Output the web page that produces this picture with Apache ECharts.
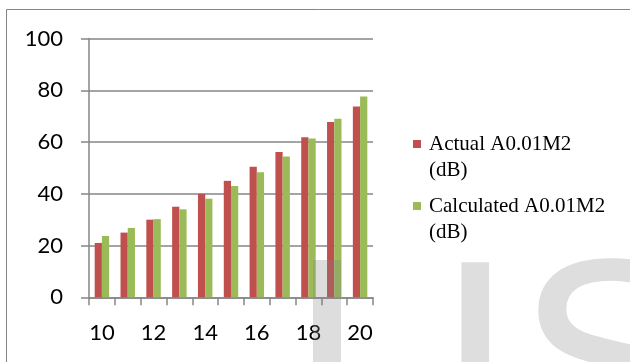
<!DOCTYPE html>
<html>
<head>
<meta charset="utf-8">
<script src="https://cdn.jsdelivr.net/npm/echarts@6/dist/echarts.min.js"></script>
<style>
  html, body { margin: 0; padding: 0; background: #fff; }
  #chart { width: 630px; height: 362px; }
</style>
</head>
<body>
<div id="chart"></div>
<script>
// Sound levels per category, in dB
const categories = ['10', '11', '12', '13', '14', '15', '16', '17', '18', '19', '20'];
const actualValues = [21, 25, 30, 35, 40, 45, 50.4, 56.1, 61.8, 67.7, 73.7];
const calculatedValues = [23.7, 26.8, 30.2, 34, 38.1, 43, 48.3, 54.4, 61.4, 69, 77.6];
const seriesNames = ['Actual A0.01M2 (dB)', 'Calculated A0.01M2 (dB)'];
const yTicks = { min: 0, max: 100, interval: 20 };

const axisGray = '#868686';
const legendLine = 26;
const chart = echarts.init(document.getElementById('chart'), null, { renderer: 'canvas' });

// One legend per series so each entry can sit at its own height.
// The leading blank line keeps the swatch level with the first text line.
function legendFor(name, firstLineCenter) {
  return {
    data: [name],
    left: 413,
    top: firstLineCenter - legendLine * 1.5,
    orient: 'vertical',
    icon: 'rect',
    itemWidth: 8,
    itemHeight: 8,
    padding: 0,
    selectedMode: false,
    formatter: n => '\n' + n.replace(' (dB)', '\n(dB)'),
    textStyle: {
      fontFamily: 'Liberation Serif',
      fontSize: 21,
      lineHeight: legendLine,
      color: '#000',
      padding: [0, 0, 0, 3]
    }
  };
}

chart.setOption({
  animation: false,
  backgroundColor: '#fff',
  grid: { left: 89, right: 257, top: 38.5, bottom: 64.7 },
  legend: [legendFor(seriesNames[0], 144), legendFor(seriesNames[1], 206)],
  xAxis: {
    type: 'category',
    data: categories,
    boundaryGap: true,
    axisLine: { lineStyle: { color: axisGray, width: 1.5 } },
    axisTick: { show: true, interval: 0, length: 8, lineStyle: { color: axisGray, width: 1.5 } },
    axisLabel: { interval: 1, margin: 25, fontFamily: 'Lato', fontSize: 22, color: '#000' }
  },
  yAxis: {
    type: 'value',
    min: yTicks.min,
    max: yTicks.max,
    interval: yTicks.interval,
    axisLine: { show: true, lineStyle: { color: axisGray, width: 1.5 } },
    axisTick: { show: true, length: 8, lineStyle: { color: axisGray, width: 1.5 } },
    axisLabel: { margin: 26, fontFamily: 'Lato', fontSize: 22, color: '#000' },
    splitLine: { lineStyle: { color: axisGray, width: 1.5 } }
  },
  series: [
    {
      name: seriesNames[0],
      type: 'bar',
      data: actualValues,
      itemStyle: { color: '#C0504D' },
      barGap: '0%',
      barCategoryGap: '44%'
    },
    {
      name: seriesNames[1],
      type: 'bar',
      data: calculatedValues,
      itemStyle: { color: '#9BBB59' },
      barGap: '0%',
      barCategoryGap: '44%'
    }
  ],
  graphic: [
    // chart frame
    {
      type: 'rect', silent: true, z: 0,
      shape: { x: 6.5, y: 9.5, width: 640, height: 370 },
      style: { fill: 'none', stroke: axisGray, lineWidth: 1 }
    },
    // faint watermark lettering
    {
      type: 'rect', silent: true, z: 100,
      shape: { x: 313, y: 260, width: 28, height: 110 },
      style: { fill: 'rgba(128,128,128,0.27)' }
    },
    {
      type: 'text', silent: true, z: -1,
      left: 437, top: 239,
      style: { text: 'I', fontFamily: 'Liberation Sans', fontSize: 265, fill: '#dedede', stroke: '#dedede', lineWidth: 3 }
    },
    {
      type: 'text', silent: true, z: -1,
      left: 517, top: 237,
      style: { text: 'S', fontFamily: 'Liberation Sans', fontSize: 275, fill: '#dedede', stroke: '#dedede', lineWidth: 3 }
    }
  ]
});
</script>
</body>
</html>
